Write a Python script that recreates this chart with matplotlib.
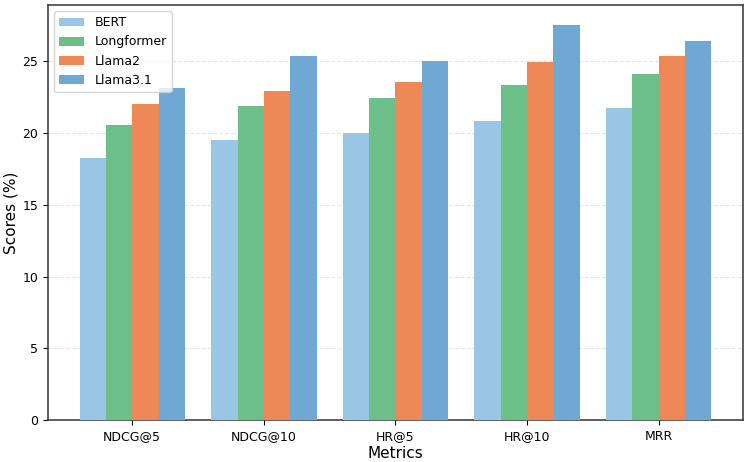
import matplotlib
matplotlib.use("Agg")
import matplotlib.pyplot as plt
import numpy as np

metrics = ["NDCG@5", "NDCG@10", "HR@5", "HR@10", "MRR"]
models = ["BERT", "Longformer", "Llama2", "Llama3.1"]
bert = [18.24, 19.53, 20.0, 20.88, 21.78]
longformer = [20.54, 21.89, 22.45, 23.33, 24.1]
llama2 = [22.05, 22.95, 23.6, 24.98, 25.35]
llama31 = [23.12, 25.38, 25.0, 27.56, 26.41]
colors = ["#98c6e4", "#6dbf89", "#ee8856", "#6fa8d2"]

fig = plt.figure(figsize=(7.49, 4.62), dpi=100)
W, H = 749, 462
ax = fig.add_axes([48 / W, (H - 420) / H, (743 - 48) / W, (420 - 5) / H])
x = np.arange(len(metrics))
w = 0.2
for i, (name, vals) in enumerate(zip(models, [bert, longformer, llama2, llama31])):
    ax.bar(x + (i - 1.5) * w, vals, w, label=name, color=colors[i], zorder=3)

ax.set_xticks(x)
ax.set_xticklabels(metrics, fontsize=9)
ax.tick_params(axis='y', labelsize=9)
ax.set_xlabel("Metrics", fontsize=11, labelpad=2)
ax.set_ylabel("Scores (%)", fontsize=11, labelpad=3)
ax.grid(axis='y', linestyle='--', alpha=0.3, zorder=0)
ax.legend(loc='upper left', fontsize=9)
for s in ax.spines.values():
    s.set_color('#333333')
    s.set_linewidth(1.1)
fig.savefig("out.png", dpi=100)
